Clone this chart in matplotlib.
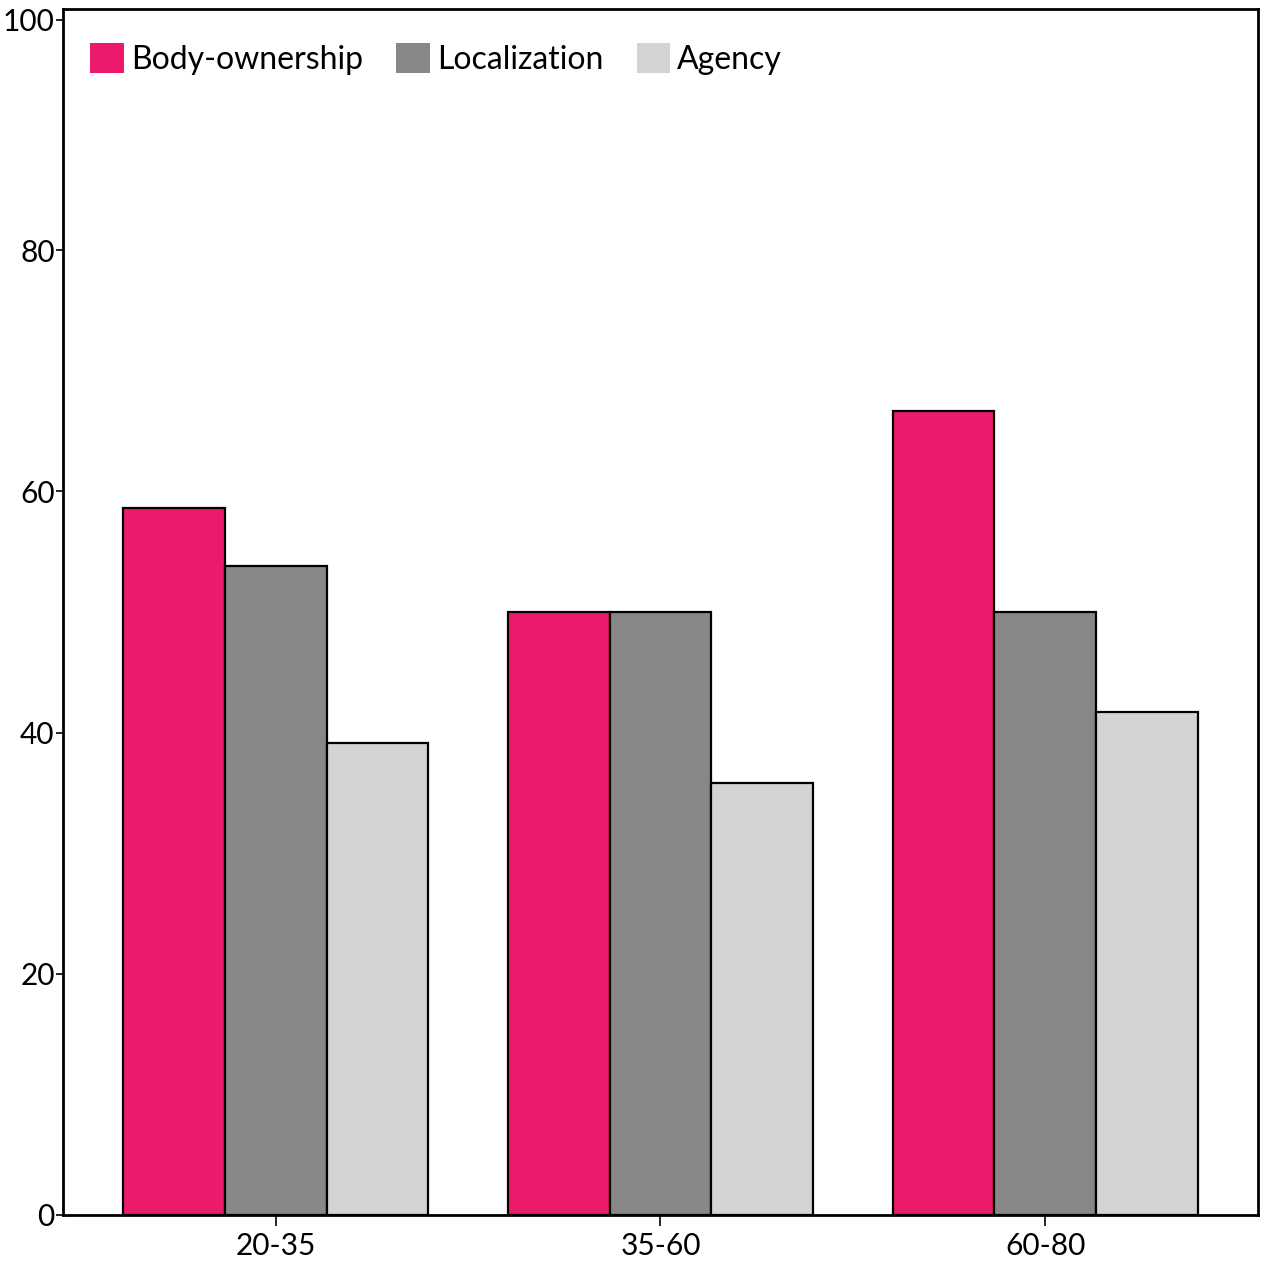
import matplotlib
matplotlib.use("Agg")
import matplotlib.pyplot as plt
import numpy as np
from matplotlib.patches import Patch

plt.rcParams['font.family'] = ['Lato', 'DejaVu Sans']

categories = ["20-35", "35-60", "60-80"]
series = ["Body-ownership", "Localization", "Agency"]
body = [58.6, 50.0, 66.7]
local = [53.8, 50.0, 50.0]
agency = [39.1, 35.8, 41.7]
colors = ["#EC1A6D", "#878787", "#D3D3D3"]
ytick_labels = ["0", "20", "40", "60", "80", "100"]
# the reference draws its top tick slightly below the frame edge
ytick_pos = [0, 20, 40, 60, 80, 99.1]

fig = plt.figure(figsize=(12.72, 12.66), dpi=100)
ax = fig.add_axes([0.0495, 0.0403, 0.9395, 0.9526])

x = np.arange(len(categories))
w = 0.264
for i, (vals, c, name) in enumerate(zip([body, local, agency], colors, series)):
    ax.bar(x + (i - 1) * w, vals, width=w, color=c, edgecolor="black",
           linewidth=1.6, label=name, zorder=2)

ax.set_xlim(-0.553, 2.553)
ax.set_ylim(0, 100)
ax.set_xticks(x)
ax.set_xticklabels(categories)
ax.set_yticks(ytick_pos)
ax.set_yticklabels(ytick_labels)
ax.tick_params(axis='both', labelsize=21.5, width=1.2, colors='black')
ax.tick_params(axis='y', length=5, pad=1)
ax.tick_params(axis='x', length=8, pad=4)
for s in ax.spines.values():
    s.set_linewidth(2)

handles = [Patch(facecolor=c, edgecolor='none') for c in colors]
leg = ax.legend(handles, series, loc='upper left', ncol=3, frameon=False,
                fontsize=23, handlelength=1.05, handleheight=1.05,
                handletextpad=0.22, columnspacing=1.05,
                bbox_to_anchor=(0.0, 0.994), borderaxespad=0.45)

fig.savefig("out.png", dpi=100)
